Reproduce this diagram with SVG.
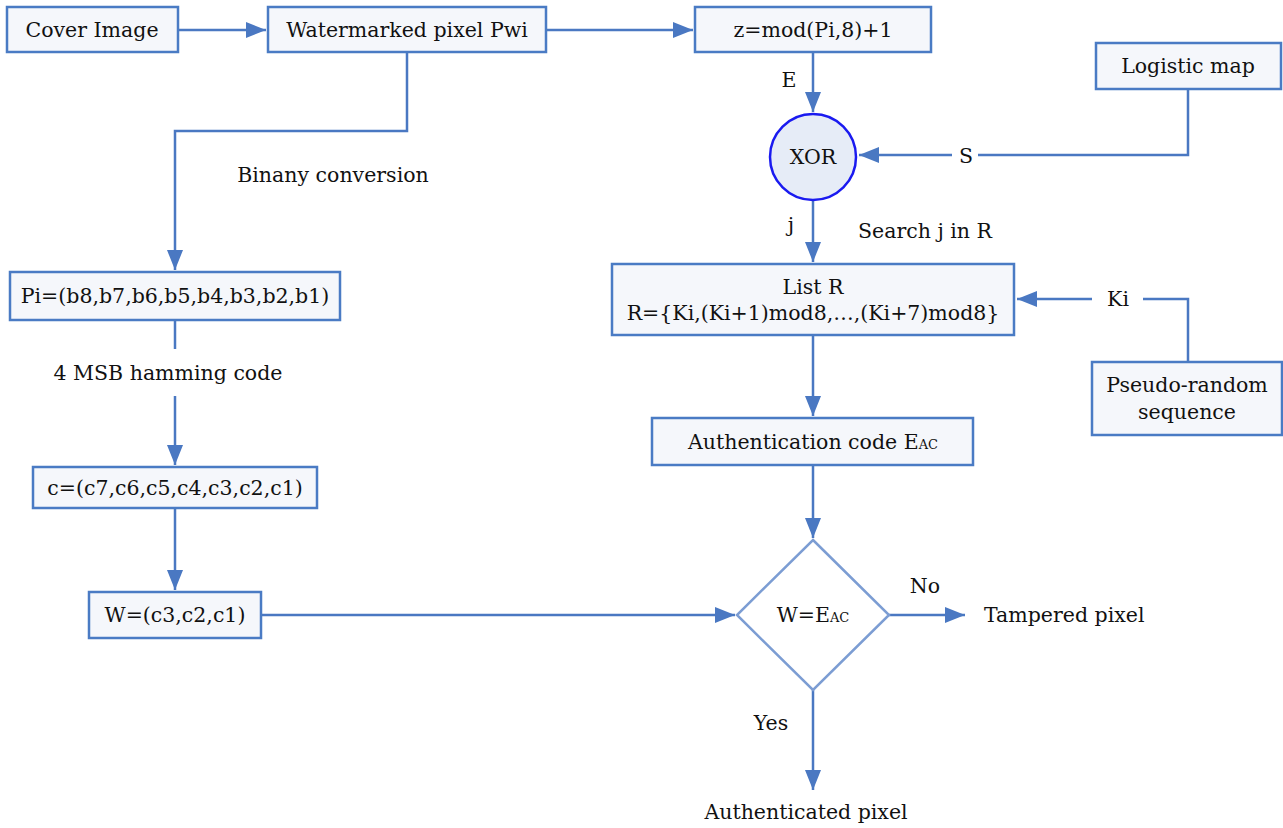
<svg xmlns="http://www.w3.org/2000/svg" width="1283" height="828" viewBox="0 0 1283 828">
<style>
.box{fill:#f5f7fb;stroke:#4a7bc4;stroke-width:2.5}
.t{font-family:"DejaVu Serif","Liberation Serif",serif;font-size:20.5px;fill:#111;text-anchor:middle}
.ts{text-anchor:start}
.sub{font-size:13px}
.c{fill:none;stroke:#4a78c2;stroke-width:2.5}
</style>
<defs>
<marker id="ah" viewBox="0 0 20 16" refX="20" refY="8" markerWidth="20" markerHeight="16" markerUnits="userSpaceOnUse" orient="auto">
<path d="M0,0 L20,8 L0,16 Z" fill="#4a78c2"/>
</marker>
</defs>
<rect width="1283" height="828" fill="#fff"/>
<g id="connectors">
<path class="c" d="M178,30 H266" marker-end="url(#ah)"/>
<path class="c" d="M546,30 H693" marker-end="url(#ah)"/>
<path class="c" d="M813,52 V112" marker-end="url(#ah)"/>
<path class="c" d="M1188,89 V155 H978"/>
<path class="c" d="M952,155 H859" marker-end="url(#ah)"/>
<path class="c" d="M813,200 V262" marker-end="url(#ah)"/>
<path class="c" d="M1188,362 V299 H1143"/>
<path class="c" d="M1092,299 H1017" marker-end="url(#ah)"/>
<path class="c" d="M813,335 V416" marker-end="url(#ah)"/>
<path class="c" d="M813,465 V538" marker-end="url(#ah)"/>
<path class="c" d="M889,615 H965" marker-end="url(#ah)"/>
<path class="c" d="M813,690 V790" marker-end="url(#ah)"/>
<path class="c" d="M407,52 V131 H175 V270" marker-end="url(#ah)"/>
<path class="c" d="M175,320 V349"/>
<path class="c" d="M175,396 V465" marker-end="url(#ah)"/>
<path class="c" d="M175,508 V590" marker-end="url(#ah)"/>
<path class="c" d="M261,615 H735" marker-end="url(#ah)"/>
</g>
<g id="labels">
<text class="t" x="789" y="87">E</text>
<text class="t" x="966" y="163">S</text>
<text class="t" x="791" y="232">j</text>
<text class="t" x="925" y="238">Search j in R</text>
<text class="t" x="1118" y="306">Ki</text>
<text class="t" x="925" y="593">No</text>
<text class="t ts" x="984" y="622">Tampered pixel</text>
<text class="t" x="771" y="730">Yes</text>
<text class="t" x="806" y="819">Authenticated pixel</text>
<text class="t" x="333" y="182">Binany conversion</text>
<text class="t" x="168" y="380">4 MSB hamming code</text>
</g>
<g id="cover"><rect class="box" x="7" y="7" width="171" height="45"/><text class="t" x="92" y="37">Cover Image</text></g>
<g id="watermarked"><rect class="box" x="268" y="7" width="278" height="45"/><text class="t" x="407" y="37">Watermarked pixel Pwi</text></g>
<g id="zmod"><rect class="box" x="695" y="7" width="236" height="45"/><text class="t" x="813" y="37">z=mod(Pi,8)+1</text></g>
<g id="logistic"><rect class="box" x="1096" y="43" width="185" height="46"/><text class="t" x="1188" y="73">Logistic map</text></g>
<g id="xor"><ellipse cx="813" cy="157" rx="43" ry="43" fill="#e6ecf7" stroke="#1a1af0" stroke-width="2.5"/><text class="t" x="813" y="164">XOR</text></g>
<g id="listr"><rect class="box" x="612" y="264" width="402" height="71"/><text class="t" x="813" y="294">List R</text><text class="t" x="813" y="320">R={Ki,(Ki+1)mod8,…,(Ki+7)mod8}</text></g>
<g id="pseudo"><rect class="box" x="1092" y="362" width="190" height="73"/><text class="t" x="1187" y="392">Pseudo-random</text><text class="t" x="1187" y="419">sequence</text></g>
<g id="auth"><rect class="box" x="652" y="418" width="321" height="47"/><text class="t" x="813" y="449">Authentication code E<tspan class="sub">AC</tspan></text></g>
<g id="decision"><path d="M813,540 L889,615 L813,690 L737,615 Z" fill="#fff" stroke="#7c9dd3" stroke-width="2.5"/><text class="t" x="813" y="622">W=E<tspan class="sub">AC</tspan></text></g>
<g id="pi"><rect class="box" x="10" y="272" width="330" height="48"/><text class="t" x="175" y="303">Pi=(b8,b7,b6,b5,b4,b3,b2,b1)</text></g>
<g id="cbox"><rect class="box" x="33" y="467" width="284" height="41"/><text class="t" x="175" y="495">c=(c7,c6,c5,c4,c3,c2,c1)</text></g>
<g id="wbox"><rect class="box" x="89" y="592" width="172" height="46"/><text class="t" x="175" y="622">W=(c3,c2,c1)</text></g>
</svg>
